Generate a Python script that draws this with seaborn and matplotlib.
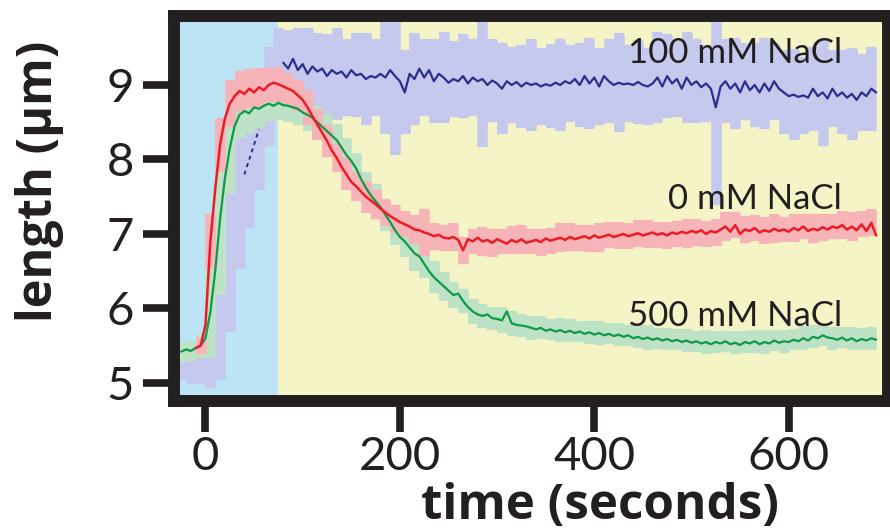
import numpy as np
import matplotlib
matplotlib.use("Agg")
import matplotlib.pyplot as plt
import seaborn as sns

# ---------------- data ----------------
time_s = np.arange(-25, 691, 5)  # seconds, 5 s steps

red_0mM = [np.nan, np.nan, np.nan, 5.47, 5.50, 5.78, 6.90, 7.60, 8.20, 8.55,
           8.75, 8.85, 8.92, 8.88, 8.95, 8.90, 8.97, 8.93, 9.00, 9.03,
           9.01, 8.98, 8.95, 8.92, 8.86, 8.80, 8.70, 8.58, 8.47, 8.36,
           8.25, 8.12, 8.02, 7.90, 7.80, 7.70, 7.64, 7.57, 7.50, 7.45,
           7.40, 7.34, 7.29, 7.24, 7.20, 7.16, 7.13, 7.10, 7.06, 7.05,
           7.02, 7.00, 6.97, 6.99, 6.95, 6.94, 6.96, 6.92, 6.78, 6.93,
           6.90, 6.95, 6.90, 6.92, 6.88, 6.93, 6.90, 6.87, 6.92, 6.89,
           6.93, 6.88, 6.90, 6.92, 6.89, 6.94, 6.91, 6.93, 6.95, 6.92,
           6.96, 6.93, 6.95, 6.97, 6.94, 6.98, 6.95, 6.97, 6.99, 6.96,
           6.98, 7.00, 6.97, 6.99, 7.01, 6.98, 7.00, 7.02, 6.99, 7.01,
           6.98, 7.02, 7.00, 7.03, 7.01, 7.04, 7.02, 7.05, 7.00, 7.04,
           7.02, 7.06, 7.10, 7.03, 7.12, 7.00, 7.06, 7.04, 7.08, 7.02,
           7.05, 7.03, 7.07, 7.04, 7.06, 7.03, 7.08, 7.05, 7.10, 7.04,
           7.07, 7.05, 7.09, 7.06, 7.10, 7.08, 7.12, 7.06, 7.10, 7.05,
           7.13, 7.04, 7.15, 6.98]

green_500mM = [5.42, 5.45, 5.43, 5.47, 5.50, 5.60, 5.95, 6.50, 7.20, 7.75,
               8.15, 8.45, 8.60, 8.65, 8.62, 8.70, 8.68, 8.72, 8.75, 8.72,
               8.76, 8.73, 8.72, 8.70, 8.68, 8.63, 8.60, 8.56, 8.50, 8.44,
               8.38, 8.32, 8.26, 8.16, 8.06, 7.98, 7.88, 7.74, 7.62, 7.52,
               7.44, 7.36, 7.26, 7.16, 7.05, 6.96, 6.90, 6.82, 6.74, 6.70,
               6.60, 6.50, 6.42, 6.36, 6.30, 6.24, 6.18, 6.20, 6.10, 6.02,
               5.96, 5.92, 5.90, 5.92, 5.87, 5.86, 5.84, 5.96, 5.80, 5.78,
               5.77, 5.76, 5.74, 5.72, 5.74, 5.70, 5.72, 5.69, 5.71, 5.68,
               5.70, 5.67, 5.69, 5.66, 5.68, 5.65, 5.67, 5.64, 5.66, 5.63,
               5.65, 5.62, 5.64, 5.60, 5.62, 5.59, 5.61, 5.58, 5.60, 5.57,
               5.59, 5.56, 5.58, 5.55, 5.57, 5.54, 5.56, 5.53, 5.55, 5.52,
               5.55, 5.53, 5.56, 5.52, 5.54, 5.51, 5.55, 5.53, 5.56, 5.52,
               5.55, 5.53, 5.57, 5.54, 5.56, 5.55, 5.58, 5.56, 5.60, 5.57,
               5.62, 5.60, 5.64, 5.61, 5.60, 5.58, 5.61, 5.57, 5.60, 5.56,
               5.59, 5.57, 5.60, 5.58]

blue_100mM = [5.20, 5.22, 5.20, 5.25, 5.30, 5.35, 5.45, 5.60, 5.85, 6.20,
              6.70, 7.20, 7.55, 7.80, 8.00, 8.20, 8.40, 8.65, 8.85, 9.05,
              9.20, 9.30, 9.22, 9.35, 9.20, 9.28, 9.15, 9.25, 9.18, 9.22,
              9.12, 9.20, 9.15, 9.18, 9.10, 9.20, 9.13, 9.15, 9.08, 9.12,
              9.10, 9.15, 9.10, 9.20, 9.12, 9.05, 8.90, 9.15, 9.08, 9.22,
              9.10, 9.20, 9.05, 9.15, 9.10, 9.03, 9.08, 9.05, 9.12, 9.02,
              9.10, 9.05, 9.08, 9.00, 9.06, 9.02, 8.95, 9.05, 9.00, 9.04,
              8.98, 9.03, 9.00, 9.02, 8.98, 9.01, 8.99, 9.03, 9.00, 9.05,
              9.02, 9.08, 9.00, 9.12, 9.02, 9.10, 8.98, 9.12, 9.05, 9.00,
              9.03, 9.01, 9.02, 9.00, 9.04, 9.00, 8.98, 9.02, 9.10, 8.98,
              9.12, 9.02, 9.08, 8.95, 9.10, 9.00, 9.05, 8.97, 9.02, 8.95,
              8.70, 8.98, 9.05, 8.95, 9.02, 8.90, 9.05, 8.93, 9.00, 8.90,
              9.02, 8.92, 9.05, 8.95, 8.90, 8.85, 8.87, 8.84, 8.86, 8.83,
              8.95, 8.85, 8.90, 8.82, 8.95, 8.85, 8.90, 8.83, 8.88, 8.80,
              8.90, 8.85, 8.95, 8.90]

# error bars (every 10 s: -25, -15, ..., 685)
err_blue = [0.15, 0.20, 0.30, 0.50, 0.80, 1.00, 1.00, 0.90, 0.80, 0.65, 0.55,
            0.50, 0.55, 0.60, 0.50, 0.55, 0.60, 0.50, 0.55, 0.60, 0.50,
            0.75, 1.05, 0.55, 0.60, 0.50, 0.55, 0.60, 0.50, 0.55, 0.50,
            0.90, 0.55, 0.60, 0.50, 0.55, 0.60, 0.50, 0.55, 0.60, 0.50,
            0.55, 0.60, 0.50, 0.55, 0.65, 0.50, 0.55, 0.50, 0.60, 0.55,
            0.50, 0.60, 0.55, 0.50, 1.30, 0.55, 0.60, 0.50, 0.55, 0.60,
            0.50, 0.55, 0.60, 0.50, 0.55, 0.70, 0.50, 0.55, 0.60, 0.50,
            0.55]
err_red = [np.nan, np.nan, 0.10, 0.35, 0.35, 0.30, 0.25, 0.25, 0.25, 0.22, 0.22,
           0.20, 0.20, 0.22, 0.20, 0.20, 0.18, 0.20, 0.18, 0.20, 0.18,
           0.17, 0.18, 0.16, 0.18, 0.30, 0.17, 0.16, 0.18, 0.17, 0.16,
           0.18, 0.17, 0.16, 0.17, 0.18, 0.16, 0.17, 0.16, 0.18, 0.17,
           0.16, 0.17, 0.18, 0.16, 0.17, 0.16, 0.17, 0.18, 0.16, 0.17,
           0.16, 0.18, 0.17, 0.16, 0.17, 0.18, 0.16, 0.17, 0.16, 0.17,
           0.18, 0.16, 0.17, 0.16, 0.18, 0.17, 0.16, 0.17, 0.18, 0.16,
           0.17]
err_green = [0.12, 0.12, 0.15, 0.60, 1.00, 0.60, 0.30, 0.25, 0.25, 0.22, 0.22,
             0.20, 0.20, 0.20, 0.20, 0.22, 0.20, 0.22, 0.20, 0.20, 0.22,
             0.20, 0.18, 0.20, 0.22, 0.18, 0.20, 0.18, 0.16, 0.15, 0.16,
             0.15, 0.14, 0.16, 0.15, 0.14, 0.15, 0.14, 0.13, 0.15, 0.14,
             0.13, 0.14, 0.15, 0.13, 0.14, 0.13, 0.14, 0.15, 0.13, 0.14,
             0.13, 0.14, 0.13, 0.15, 0.14, 0.13, 0.14, 0.13, 0.14, 0.15,
             0.13, 0.14, 0.13, 0.15, 0.14, 0.13, 0.14, 0.13, 0.14, 0.13,
             0.14]

labels = ["100 mM NaCl", "0 mM NaCl", "500 mM NaCl"]
x_ticks = [0, 200, 400, 600]
y_ticks = [5, 6, 7, 8, 9]
switch_time = 75  # end of blue-shaded phase

# ---------------- style ----------------
sns.set_theme(style="white")
plt.rcParams["font.family"] = ["Lato", "DejaVu Sans"]

C_BLUE, C_RED, C_GREEN = "#2B2E8C", "#EC1C24", "#0E9A48"
B_BLUE, B_RED, B_GREEN = "#C5C9EE", "#F6B4B8", "#BEE2C6"
BG_BLUE, BG_YELLOW = "#BDE4F4", "#F5F4C6"
INK = "#231F20"

fig = plt.figure(figsize=(8.9, 5.32), dpi=100)
ax = fig.add_axes([174 / 890, 1 - 401 / 532, (888 - 174) / 890, (401 - 16) / 532])

ax.set_xlim(-32.4, 702.2)
ax.set_ylim(4.758, 9.926)

ax.axvspan(-60, switch_time, color=BG_BLUE, lw=0, zorder=0)
ax.axvspan(switch_time, 800, color=BG_YELLOW, lw=0, zorder=0)

t = np.asarray(time_s, dtype=float)
blue = np.asarray(blue_100mM)
red = np.asarray(red_0mM)
green = np.asarray(green_500mM)
te = t[::2]

def bars(mean, err, color, z):
    ax.errorbar(te, mean[::2], yerr=np.asarray(err), fmt="none", ecolor=color,
                elinewidth=7.6, capsize=3.5, capthick=1.6, zorder=z)

bars(blue, err_blue, B_BLUE, 1)
bars(green, err_green, B_GREEN, 2)
bars(red, err_red, B_RED, 3)

late = t >= 78
early = (t >= 40) & (t <= 55)
sns.lineplot(x=t[late], y=blue[late], ax=ax, color=C_BLUE, lw=1.6,
             estimator=None, zorder=4)
ax.plot(t[early], blue[early], color=C_BLUE, lw=1.4, ls=(0, (2, 2)), zorder=4)
sns.lineplot(x=t, y=green, ax=ax, color=C_GREEN, lw=1.6, estimator=None, zorder=5)
sns.lineplot(x=t, y=red, ax=ax, color=C_RED, lw=1.8, estimator=None, zorder=6)

for lab, yv in zip(labels, [9.43, 7.47, 5.90]):
    ax.text(655, yv, lab, ha="right", va="center", fontsize=25, color=INK, zorder=7)

# ---------------- axes ----------------
ax.set_xticks(x_ticks)
ax.set_yticks(y_ticks)
ax.set_xticklabels([str(v) for v in x_ticks])
ax.set_yticklabels([str(v) for v in y_ticks])
ax.tick_params(axis="both", direction="out", length=22, width=5.5, color=INK,
               labelcolor=INK, bottom=True, left=True)
ax.tick_params(axis="x", labelsize=34, pad=3)
ax.tick_params(axis="y", labelsize=34, pad=7)
for s in ax.spines.values():
    s.set_visible(True)
    s.set_linewidth(8.6)
    s.set_color(INK)
    s.set_capstyle("projecting")
    s.set_zorder(10)

lab_font = ["Open Sans", "Lato", "DejaVu Sans"]
ax.set_xlabel("time (seconds)", fontsize=35.5, fontweight="bold", color=INK,
              family=lab_font, va="bottom")
ax.set_ylabel("length (\u00b5m)", fontsize=35, fontweight="bold", color=INK,
              family=lab_font, va="baseline")
ax.xaxis.set_label_coords(0.597, -0.3377)
ax.yaxis.set_label_coords(-0.171, 0.571)
ax.grid(False)

fig.savefig("out.png", dpi=100)
